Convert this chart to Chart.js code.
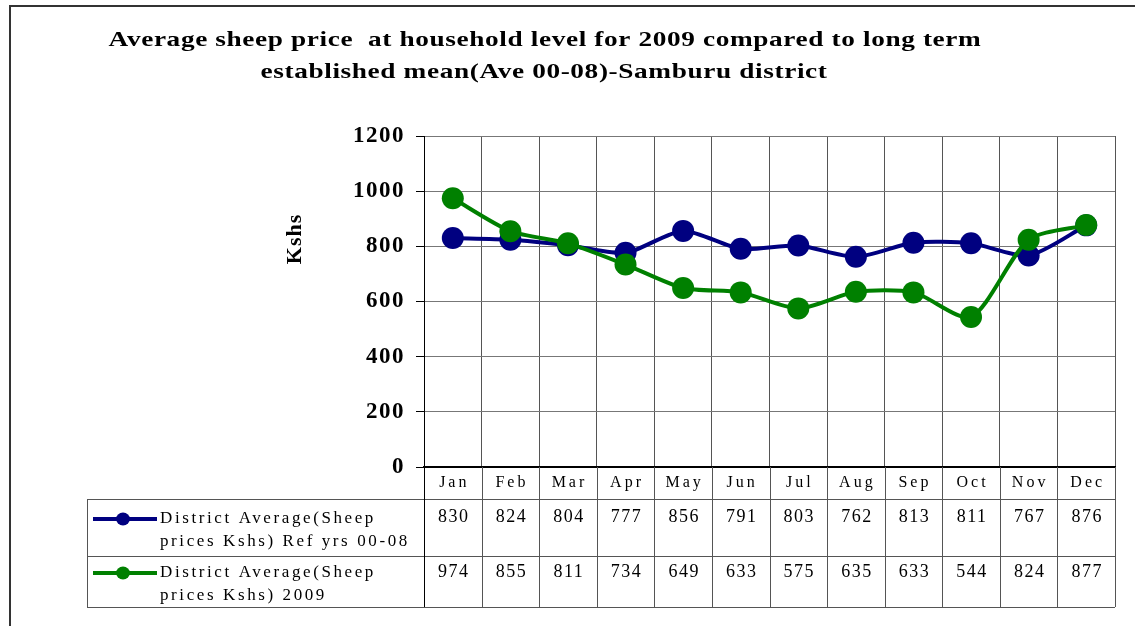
<!DOCTYPE html>
<html>
<head>
<meta charset="utf-8">
<script src="https://cdn.jsdelivr.net/npm/chart.js@4.4.1/dist/chart.umd.min.js"></script>
<style>
  html, body { margin: 0; padding: 0; background: #fff; }
  #wrap { width: 1135px; height: 626px; position: relative; }
</style>
</head>
<body>
<div id="wrap"><canvas id="c" width="1135" height="626"></canvas></div>
<script>
const months = ['Jan','Feb','Mar','Apr','May','Jun','Jul','Aug','Sep','Oct','Nov','Dec'];
const refValues = [830, 824, 804, 777, 856, 791, 803, 762, 813, 811, 767, 876];
const values2009 = [974, 855, 811, 734, 649, 633, 575, 635, 633, 544, 824, 877];
const refLabelLines = ['District Average(Sheep', 'prices Kshs) Ref yrs 00-08'];
const label2009Lines = ['District Average(Sheep', 'prices Kshs) 2009'];
const titleLines = ['Average sheep price  at household level for 2009 compared to long term',
                    'established mean(Ave 00-08)-Samburu district'];
const yTitle = 'Kshs';
const yTicks = { min: 0, max: 1200, step: 200 };

const BLUE = '#000080';
const GREEN = '#008000';
const SERIF = '"Liberation Serif", "Times New Roman", serif';

const frameAndText = {
  id: 'frameAndText',
  beforeDraw(chart) {
    const ctx = chart.ctx;
    ctx.save();
    ctx.fillStyle = '#fff';
    ctx.fillRect(0, 0, chart.width, chart.height);
    ctx.strokeStyle = '#333';
    ctx.lineWidth = 2;
    ctx.beginPath();
    ctx.moveTo(10, chart.height + 5);
    ctx.lineTo(10, 6);
    ctx.lineTo(chart.width + 5, 6);
    ctx.stroke();
    // title
    ctx.fillStyle = '#000';
    ctx.font = 'bold 22px ' + SERIF;
    ctx.letterSpacing = '0.5px';
    ctx.textAlign = 'center';
    ctx.textBaseline = 'middle';
    ctx.save();
    ctx.translate(545, 40);
    ctx.scale(1.24, 1);
    ctx.fillText(titleLines[0], 0, 0);
    ctx.restore();
    ctx.save();
    ctx.translate(544, 72);
    ctx.scale(1.24, 1);
    ctx.fillText(titleLines[1], 0, 0);
    ctx.restore();
    // y title
    ctx.translate(295, 239);
    ctx.rotate(-Math.PI / 2);
    ctx.font = 'bold 22px ' + SERIF;
    ctx.letterSpacing = '1px';
    ctx.fillText(yTitle, 0, 0);
    ctx.restore();
    // letter spacing for the y tick labels
    ctx.letterSpacing = '1.5px';
  },
  beforeDatasetsDraw(chart) {
    chart.ctx.letterSpacing = '0px';
  },
  afterDraw(chart) {
    const ctx = chart.ctx;
    const xs = chart.scales.x;
    const area = chart.chartArea;
    const colW = xs.getPixelForValue(1) - xs.getPixelForValue(0);
    const top = area.bottom;
    const hdrB = top + 32;
    const r1B = hdrB + 57;
    const r2B = r1B + 51;
    const tabL = 87;
    ctx.save();
    ctx.strokeStyle = '#555';
    ctx.lineWidth = 1;
    ctx.beginPath();
    for (let i = 0; i <= months.length; i++) {
      const x = Math.round(xs.getPixelForValue(i) - colW / 2) + 0.5;
      ctx.moveTo(x, top);
      ctx.lineTo(x, r2B);
    }
    ctx.moveTo(tabL, hdrB + 0.5); ctx.lineTo(area.right, hdrB + 0.5);
    ctx.moveTo(tabL, r1B + 0.5); ctx.lineTo(area.right, r1B + 0.5);
    ctx.moveTo(tabL, r2B + 0.5); ctx.lineTo(area.right, r2B + 0.5);
    ctx.moveTo(tabL + 0.5, hdrB); ctx.lineTo(tabL + 0.5, r2B);
    ctx.stroke();
    ctx.strokeStyle = '#000';
    ctx.beginPath();
    ctx.moveTo(area.left + 0.5, top); ctx.lineTo(area.left + 0.5, r2B);
    ctx.stroke();

    ctx.fillStyle = '#000';
    ctx.textAlign = 'center';
    ctx.textBaseline = 'middle';
    ctx.font = '16px ' + SERIF;
    ctx.letterSpacing = '3px';
    months.forEach((m, i) => {
      ctx.fillText(m, xs.getPixelForValue(i) + 1.5, top + 16);
    });
    ctx.letterSpacing = '1.5px';
    ctx.font = '18px ' + SERIF;
    refValues.forEach((v, i) => {
      ctx.fillText(String(v), xs.getPixelForValue(i) + 1, hdrB + 18);
    });
    values2009.forEach((v, i) => {
      ctx.fillText(String(v), xs.getPixelForValue(i) + 1, r1B + 16);
    });
    const keys = [[BLUE, refLabelLines, hdrB + 20], [GREEN, label2009Lines, r1B + 17]];
    keys.forEach(([col, lines, y]) => {
      ctx.strokeStyle = col;
      ctx.lineWidth = 4;
      ctx.beginPath();
      ctx.moveTo(93, y); ctx.lineTo(157, y);
      ctx.stroke();
      ctx.fillStyle = col;
      ctx.beginPath();
      ctx.ellipse(123, y, 7, 6.5, 0, 0, Math.PI * 2);
      ctx.fill();
      ctx.fillStyle = '#000';
      ctx.textAlign = 'left';
      ctx.font = '17px ' + SERIF;
      ctx.letterSpacing = '2.6px';
      ctx.fillText(lines[0], 160, y);
      ctx.fillText(lines[1], 160, y + 23);
    });
    ctx.restore();
  }
};

new Chart(document.getElementById('c'), {
  type: 'line',
  data: {
    labels: months,
    datasets: [
      {
        label: refLabelLines.join(' '),
        data: refValues,
        borderColor: BLUE,
        backgroundColor: BLUE,
        borderWidth: 4,
        pointRadius: 11,
        pointBorderWidth: 0,
        pointBackgroundColor: BLUE,
        tension: 0.25,
        order: 2
      },
      {
        label: label2009Lines.join(' '),
        data: values2009,
        borderColor: GREEN,
        backgroundColor: GREEN,
        borderWidth: 4,
        pointRadius: 11,
        pointBorderWidth: 0,
        pointBackgroundColor: GREEN,
        tension: 0.25,
        order: 1
      }
    ]
  },
  options: {
    responsive: false,
    animation: false,
    devicePixelRatio: 1,
    layout: { padding: { left: 0, right: 20, top: 136, bottom: 159 } },
    plugins: {
      legend: { display: false },
      title: { display: false },
      tooltip: { enabled: false }
    },
    scales: {
      x: {
        type: 'category',
        offset: true,
        ticks: { display: false },
        grid: { offset: true, color: '#555', lineWidth: 1, drawTicks: false },
        border: { color: '#000', width: 2 },
        afterFit(s) { s.height = 0; }
      },
      y: {
        min: yTicks.min,
        max: yTicks.max,
        ticks: {
          stepSize: yTicks.step,
          color: '#000',
          padding: 11,
          font: { family: SERIF, size: 23, weight: 'bold' },
          callback: (v) => String(v)
        },
        grid: { color: '#777', lineWidth: 1, tickLength: 8, tickColor: '#000' },
        border: { color: '#000', width: 1 },
        afterFit(s) { s.width = 424; }
      }
    }
  },
  plugins: [frameAndText]
});
</script>
</body>
</html>
